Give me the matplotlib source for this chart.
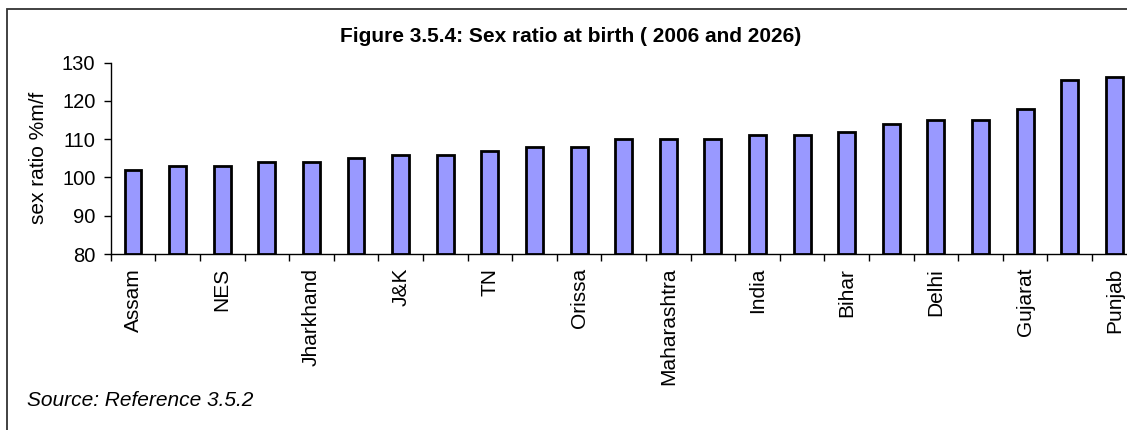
import numpy as np
import matplotlib
matplotlib.use("Agg")
import matplotlib.pyplot as plt
from matplotlib.patches import Rectangle

# data (only every other category is labelled there)
states = ["Assam", "", "NES", "", "Jharkhand", "", "J&K", "", "TN", "",
          "Orissa", "", "Maharashtra", "", "India", "", "Bihar", "",
          "Delhi", "", "Gujarat", "", "Punjab"]
sex_ratio = [102, 103, 103, 104, 104, 105, 106, 106, 107, 108, 108,
             110, 110, 110, 111, 111, 112, 114, 115, 115, 118, 125.4, 126.3]
yticks = [80, 90, 100, 110, 120, 130]

plt.rcParams['font.family'] = ['Liberation Sans', 'DejaVu Sans']

W, H = 1127, 430
fig = plt.figure(figsize=(W / 100, H / 100), dpi=100)

# outer chart frame (runs off the right/bottom edge like the source)
fig.patches.append(Rectangle((7 / W, -0.1), 1.2, 1 - 9 / H + 0.1,
                             transform=fig.transFigure, fill=False,
                             edgecolor='#333333', linewidth=1.3))

ax = fig.add_axes([110.7 / W, 1 - 254 / H, (1136.6 - 110.7) / W, (254 - 62.7) / H])

x = np.arange(len(sex_ratio))
ax.bar(x, np.array(sex_ratio) - 80, bottom=80, width=0.38,
       color='#9999ff', edgecolor='black', linewidth=2.0, zorder=3)

ax.set_xlim(-0.5, len(sex_ratio) - 0.5)
ax.set_ylim(80, 130)
ax.set_yticks(yticks)
ax.tick_params(axis='y', labelsize=14.5, length=5, width=1, direction='out', pad=6)

ax.set_xticks(x)
ax.set_xticklabels(states, rotation=90, fontsize=15)
ax.tick_params(axis='x', which='major', length=0, pad=10)
ax.set_xticks(np.arange(-0.5, len(sex_ratio), 1), minor=True)
ax.tick_params(axis='x', which='minor', length=5, width=1, direction='out')

for s in ['top', 'right']:
    ax.spines[s].set_visible(False)
ax.spines['left'].set_linewidth(1)
ax.spines['bottom'].set_linewidth(1)

ax.set_ylabel("sex ratio %m/f", fontsize=15, labelpad=10)

fig.text(571 / W, 1 - 37 / H, "Figure 3.5.4: Sex ratio at birth ( 2006 and 2026)",
         ha='center', va='center', fontsize=15, fontweight='bold')
fig.text(27 / W, 1 - 401 / H, "Source: Reference 3.5.2", ha='left', va='center',
         fontsize=15, fontstyle='italic')

fig.savefig("out.png", dpi=100)
